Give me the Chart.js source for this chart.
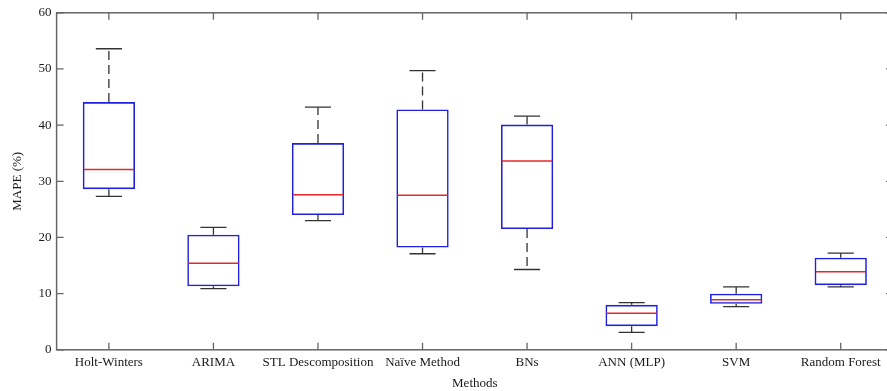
<!DOCTYPE html>
<html>
<head>
<meta charset="utf-8">
<script src="https://cdn.jsdelivr.net/npm/chart.js@4.4.1/dist/chart.umd.min.js"></script>
<style>
html,body{margin:0;padding:0;background:#fff;overflow:hidden;}
#wrap{width:893px;height:391px;position:relative;}
</style>
</head>
<body>
<div id="wrap"><canvas id="c"></canvas></div>
<script>
const categories = ["Holt-Winters","ARIMA","STL Descomposition","Naïve Method","BNs","ANN (MLP)","SVM","Random Forest"];
const whiskerMin = [27.3, 10.9, 23.0, 17.1, 14.3, 3.1, 7.7, 11.2];
const q1Values   = [28.6, 11.3, 24.0, 18.2, 21.5, 4.2, 8.2, 11.5];
const medians    = [32.1, 15.4, 27.6, 27.5, 33.6, 6.5, 8.9, 13.9];
const q3Values   = [44.1, 20.5, 36.8, 42.8, 40.1, 8.0, 10.0, 16.4];
const whiskerMax = [53.6, 21.8, 43.2, 49.7, 41.6, 8.4, 11.2, 17.2];
const yTicks = [0, 10, 20, 30, 40, 50, 60];

const boxPlugin = {
  id: 'boxParts',
  afterDatasetsDraw(chart) {
    const ctx = chart.ctx, x = chart.scales.x, y = chart.scales.y;
    const meta = chart.getDatasetMeta(0);
    ctx.save();
    categories.forEach((c, i) => {
      const cx = x.getPixelForValue(i);
      const w = meta.data[i].width;
      const capHalf = w / 4;
      const yMin = y.getPixelForValue(whiskerMin[i]);
      const yQ1 = y.getPixelForValue(q1Values[i]);
      const yQ3 = y.getPixelForValue(q3Values[i]);
      const yMax = y.getPixelForValue(whiskerMax[i]);
      const yMed = y.getPixelForValue(medians[i]);
      ctx.strokeStyle = '#333';
      ctx.lineWidth = 1.3;
      ctx.setLineDash([9, 5]);
      ctx.beginPath();
      ctx.moveTo(cx, yQ3); ctx.lineTo(cx, yMax);
      ctx.moveTo(cx, yQ1); ctx.lineTo(cx, yMin);
      ctx.stroke();
      ctx.setLineDash([]);
      ctx.beginPath();
      ctx.moveTo(cx - capHalf, yMax); ctx.lineTo(cx + capHalf, yMax);
      ctx.moveTo(cx - capHalf, yMin); ctx.lineTo(cx + capHalf, yMin);
      ctx.stroke();
      ctx.strokeStyle = '#e8262b';
      ctx.lineWidth = 1.5;
      ctx.beginPath();
      ctx.moveTo(cx - w / 2 + 1, yMed); ctx.lineTo(cx + w / 2 - 1, yMed);
      ctx.stroke();
    });
    ctx.restore();
  },
  afterDraw(chart) {
    const ctx = chart.ctx, x = chart.scales.x, y = chart.scales.y;
    const a = chart.chartArea;
    ctx.save();
    ctx.strokeStyle = '#666';
    ctx.lineWidth = 1.5;
    ctx.strokeRect(a.left, a.top, a.right - a.left, a.bottom - a.top);
    ctx.lineWidth = 1.3;
    ctx.beginPath();
    const tl = 7;
    yTicks.forEach(v => {
      const py = y.getPixelForValue(v);
      ctx.moveTo(a.left, py); ctx.lineTo(a.left + tl, py);
      ctx.moveTo(a.right, py); ctx.lineTo(a.right - tl, py);
    });
    categories.forEach((c, i) => {
      const px = x.getPixelForValue(i);
      ctx.moveTo(px, a.bottom); ctx.lineTo(px, a.bottom - tl);
      ctx.moveTo(px, a.top); ctx.lineTo(px, a.top + tl);
    });
    ctx.stroke();
    ctx.restore();
  }
};

const font = { family: '"Liberation Serif", "Times New Roman", serif', size: 13 };

new Chart(document.getElementById('c'), {
  type: 'bar',
  data: {
    labels: categories,
    datasets: [{
      label: 'MAPE',
      data: q1Values.map((v, i) => [v, q3Values[i]]),
      backgroundColor: 'rgba(0,0,0,0)',
      borderColor: '#2020e0',
      borderWidth: 1.6,
      borderSkipped: false,
      barPercentage: 0.5,
      categoryPercentage: 1.0
    }]
  },
  options: {
    responsive: true,
    maintainAspectRatio: false,
    animation: false,
    layout: { padding: { top: 12, right: 0, bottom: 0, left: 10 } },
    plugins: { legend: { display: false }, tooltip: { enabled: false } },
    scales: {
      x: {
        grid: { display: false, drawTicks: false },
        border: { display: false },
        ticks: { font: font, color: '#1a1a1a', padding: 5, maxRotation: 0, autoSkip: false },
        title: { display: true, text: 'Methods', font: font, color: '#1a1a1a', padding: { top: 0, bottom: 0 } }
      },
      y: {
        min: 0, max: 60,
        afterBuildTicks: (s) => { s.ticks = yTicks.map(v => ({ value: v })); },
        grid: { display: false, drawTicks: false },
        border: { display: false },
        ticks: { font: font, color: '#1a1a1a', padding: 5 },
        title: { display: true, text: 'MAPE (%)', font: font, color: '#1a1a1a', padding: { top: 0, bottom: 8 } }
      }
    }
  },
  plugins: [boxPlugin]
});
</script>
</body>
</html>
